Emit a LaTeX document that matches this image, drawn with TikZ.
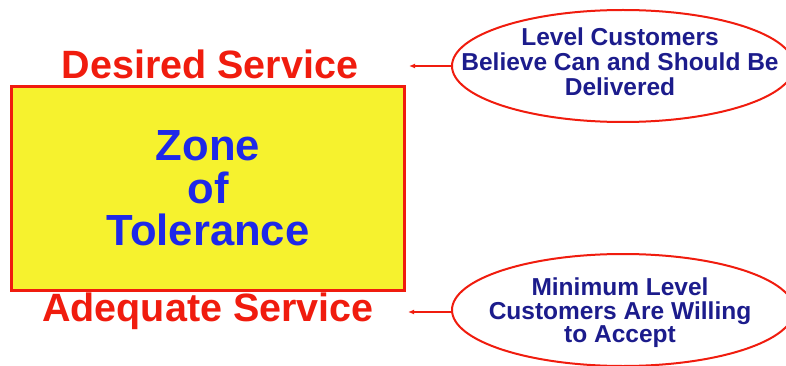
\documentclass[tikz,border=0pt]{standalone}
\usepackage{fontspec}
\setmainfont{Liberation Sans}
\usetikzlibrary{shapes.geometric,arrows.meta}

\definecolor{zonefill}{RGB}{246,242,46}
\definecolor{zonered}{RGB}{240,28,14}
\definecolor{zoneblue}{RGB}{30,40,232}
\definecolor{notenavy}{RGB}{28,28,140}

\begin{document}
\begin{tikzpicture}[x=1pt,y=-1pt,
  level/.style={text=zonered,font=\bfseries\fontsize{39.5}{40}\selectfont},
  bubble/.style={ellipse,draw=zonered,line width=2,fill=white,inner sep=0,
    minimum width=342,minimum height=112},
  note/.style={align=center,text=notenavy},
  pointer/.style={zonered,line width=1.6,-{Latex[length=6,width=5]}}]
\useasboundingbox (0,0) rectangle (786,366);

% zone box
\node[draw=zonered,fill=zonefill,line width=3,minimum width=393,minimum height=204,
  align=center,text=zoneblue,font=\bfseries\fontsize{43.6}{42.5}\selectfont]
  (zone) at (208,188.5) {Zone\\of\\Tolerance};

\node[level] (desired) at (210,64) {Desired Service};
\node[level] (adequate) at (208,311) {Adequate Service};

% explanations on the right
\node[bubble] (high) at (623,66) {};
\node[note,font=\bfseries\fontsize{24.5}{25}\selectfont] (hightext) at (620,62)
  {Level Customers\\Believe Can and Should Be\\Delivered};
\node[bubble] (low) at (623,310) {};
\node[note,font=\bfseries\fontsize{24.5}{23.5}\selectfont] (lowtext) at (620,313)
  {Minimum Level\\Customers Are Willing\\to Accept};

\coordinate (hightip) at (409,66);
\coordinate (lowtip) at (408,312);
\draw[pointer] (high.west) -- (hightip);
\draw[pointer] (low.west |- lowtip) -- (lowtip);
\end{tikzpicture}
\end{document}
